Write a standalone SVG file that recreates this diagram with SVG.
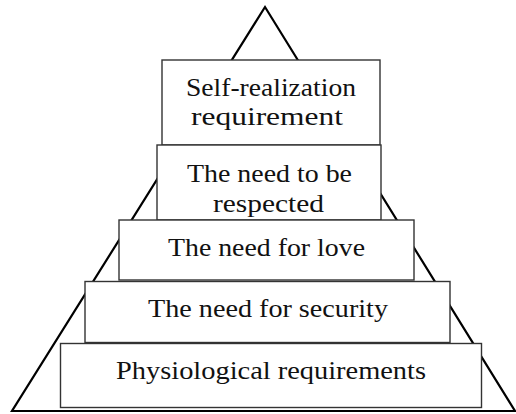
<svg xmlns="http://www.w3.org/2000/svg" width="516" height="414" viewBox="0 0 516 414">
  <style>
    .box { fill: #ffffff; stroke: #333333; stroke-width: 1.4; }
    .lbl { font-family: "Liberation Serif", "Times New Roman", serif; font-size: 26px; fill: #111111; }
    .outline { fill: none; stroke: #000000; stroke-width: 2.2; stroke-linejoin: miter; }
  </style>
  <rect x="0" y="0" width="516" height="414" fill="#ffffff"/>
  <g id="pyramid-outline">
    <polygon class="outline" points="265,7 12,411 515,411"/>
  </g>
  <g id="connectors"></g>
  <g id="node-self-realization">
    <rect class="box" x="162" y="60" width="218" height="85"/>
    <text class="lbl" x="186" y="96" textLength="170" lengthAdjust="spacingAndGlyphs">Self-realization</text>
    <text class="lbl" x="191" y="125" textLength="152" lengthAdjust="spacingAndGlyphs">requirement</text>
  </g>
  <g id="node-respected">
    <rect class="box" x="157" y="145" width="224" height="75"/>
    <text class="lbl" x="187" y="182" textLength="165" lengthAdjust="spacingAndGlyphs">The need to be</text>
    <text class="lbl" x="213" y="212" textLength="111" lengthAdjust="spacingAndGlyphs">respected</text>
  </g>
  <g id="node-love">
    <rect class="box" x="119" y="220" width="295" height="60"/>
    <text class="lbl" x="168" y="256" textLength="197" lengthAdjust="spacingAndGlyphs">The need for love</text>
  </g>
  <g id="node-security">
    <rect class="box" x="85" y="281.5" width="365" height="61"/>
    <text class="lbl" x="148" y="317" textLength="240" lengthAdjust="spacingAndGlyphs">The need for security</text>
  </g>
  <g id="node-physiological">
    <rect class="box" x="60.5" y="343.5" width="421" height="64"/>
    <text class="lbl" x="116" y="378.5" textLength="310" lengthAdjust="spacingAndGlyphs">Physiological requirements</text>
  </g>
</svg>
